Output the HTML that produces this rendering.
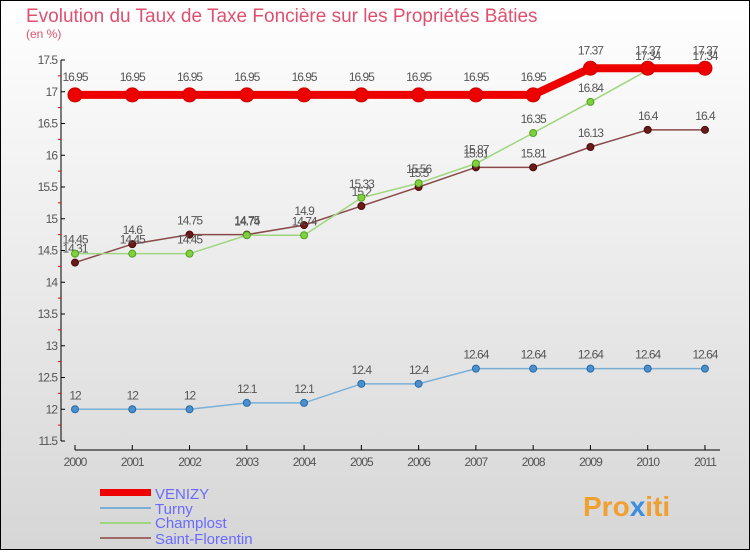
<!DOCTYPE html>
<html><head><meta charset="utf-8"><style>
body{margin:0;width:750px;height:550px;overflow:hidden;font-family:"Liberation Sans",sans-serif}
svg text{font-family:"Liberation Sans",sans-serif}
</style></head><body>
<svg id="c" width="750" height="550" xmlns="http://www.w3.org/2000/svg">
<defs><linearGradient id="bg" x1="0" y1="0" x2="0" y2="1"><stop offset="0" stop-color="#ffffff"/><stop offset="1" stop-color="#d6d6d6"/></linearGradient></defs>
<rect x="0.5" y="0.5" width="749" height="549" fill="url(#bg)" stroke="#000"/>
<text x="26" y="22" font-size="19" fill="#e0506e">Evolution du Taux de Taxe Foncière sur les Propriétés Bâties</text>
<text x="26" y="38" font-size="12" fill="#e0506e">(en %)</text>
<g id="axes"></g><g id="series"></g>
<g>
<rect x="100" y="489" width="51" height="7" fill="#e00"/>
<text x="155" y="499" font-size="15" fill="#6a6aff">VENIZY</text>
<line x1="100" y1="508" x2="151" y2="508" stroke="#7aafd6" stroke-width="2"/>
<text x="155" y="514" font-size="15" fill="#6a6aff">Turny</text>
<line x1="100" y1="523" x2="151" y2="523" stroke="#9ed57e" stroke-width="2"/>
<text x="155" y="528" font-size="15" fill="#6a6aff">Champlost</text>
<line x1="100" y1="538" x2="151" y2="538" stroke="#a06868" stroke-width="2"/>
<text x="155" y="544" font-size="15" fill="#6a6aff">Saint-Florentin</text>
</g>
<g><text x="583" y="516" font-size="28" font-weight="bold" fill="#f0a030">Pro<tspan fill="#3b8ee0">x</tspan>iti</text></g>
</svg>
<script>
const years=["2000","2001","2002","2003","2004","2005","2006","2007","2008","2009","2010","2011"];
const yTicks=[11.5,12,12.5,13,13.5,14,14.5,15,15.5,16,16.5,17,17.5];
const venizy=[16.95,16.95,16.95,16.95,16.95,16.95,16.95,16.95,16.95,17.37,17.37,17.37];
const turny=[12,12,12,12.1,12.1,12.4,12.4,12.64,12.64,12.64,12.64,12.64];
const champlost=[14.45,14.45,14.45,14.74,14.74,15.33,15.56,15.87,16.35,16.84,17.34,17.34];
const stflorentin=[14.31,14.6,14.75,14.75,14.9,15.2,15.5,15.81,15.81,16.13,16.4,16.4];
const NS="http://www.w3.org/2000/svg";
const X=i=>75+i*57.27, Y=v=>441-(v-11.5)*(381/6);
function mk(t,a,p){const e=document.createElementNS(NS,t);for(const k in a)e.setAttribute(k,a[k]);p.appendChild(e);return e;}
const ax=document.getElementById('axes'),se=document.getElementById('series');
let l=mk('line',{x1:61,y1:60,x2:61,y2:441,stroke:'#000'},ax);


l=mk('line',{x1:75,y1:450,x2:720,y2:450,stroke:'#000'},ax);


yTicks.forEach((v,i)=>{const y=Y(v);
mk('line',{x1:61,y1:y,x2:65,y2:y,stroke:'#000'},ax);
if(i<yTicks.length-1)mk('line',{x1:58,y1:y-15.9,x2:61,y2:y-15.9,stroke:'#e00'},ax);
const t=mk('text',{x:57,y:y+4,'font-size':12,fill:'#555','text-anchor':'end','letter-spacing':'-1'},ax);t.textContent=String(v);

});
years.forEach((yr,i)=>{const x=X(i);mk('line',{x1:x,y1:450,x2:x,y2:445,stroke:'#000'},ax);
const t=mk('text',{x:x,y:466,'font-size':12,fill:'#555','text-anchor':'middle','letter-spacing':'-1'},ax);t.textContent=yr;

});
function series(d,name,col,w,r,fill,stroke){const g=mk('g',{},se);


mk('polyline',{points:d.map((v,i)=>X(i)+','+Y(v)).join(' '),fill:'none',stroke:col,'stroke-width':w},g);
d.forEach((v,i)=>{const c=mk('circle',{cx:X(i),cy:Y(v),r:r,fill:fill,stroke:stroke},g);


const t=mk('text',{x:X(i),y:Y(v)-10-(r>5?4:0),'font-size':12,fill:'#555','text-anchor':'middle','letter-spacing':'-1'},g);t.textContent=String(v);

});}
series(turny,'turny','#7aafd6',1.5,3.5,'#4a90d0','#2a6aa0');
series(stflorentin,'saint-florentin','#8a4a4a',1.5,3.5,'#6a1a1a','#4a0a0a');
series(champlost,'champlost','#9ed57e',1.5,3.5,'#80d040','#50a020');
series(venizy,'venizy','#e00',8,7,'#e00','#c00');
</script>
</body></html>
